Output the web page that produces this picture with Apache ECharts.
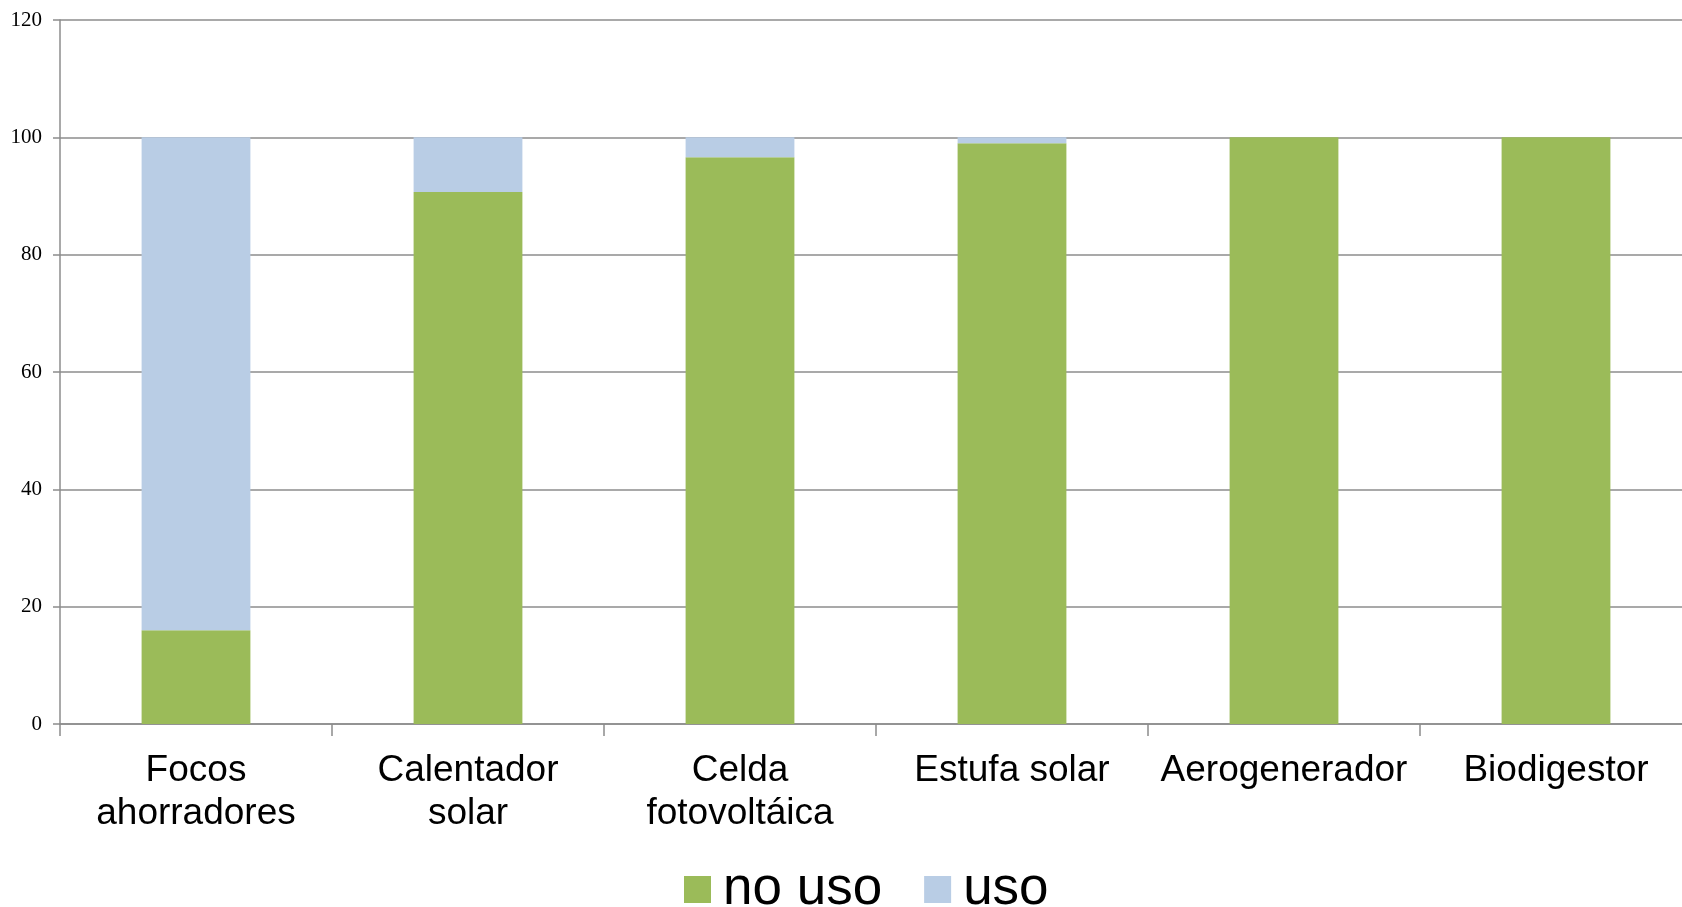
<!DOCTYPE html>
<html>
<head>
<meta charset="utf-8">
<script src="https://cdn.jsdelivr.net/npm/echarts@6/dist/echarts.min.js"></script>
<style>
  html, body { margin: 0; padding: 0; background: #fff; }
  #main { width: 1682px; height: 907px; }
</style>
</head>
<body>
<div id="main"></div>
<script>
const categories = ['Focos\nahorradores', 'Calentador\nsolar', 'Celda\nfotovoltáica', 'Estufa solar', 'Aerogenerador', 'Biodigestor'];
const noUso = [16, 90.7, 96.6, 99, 100, 100];
const uso = [84, 9.3, 3.4, 1, 0, 0];
const yTicks = [0, 20, 40, 60, 80, 100, 120];

const green = '#9BBB59';
const blue = '#B9CDE5';
const gridGray = '#8c8c8c';

const chart = echarts.init(document.getElementById('main'));

const option = {
  animation: false,
  backgroundColor: '#fff',
  grid: { left: 60, top: 20, bottom: 183, width: 1632, outerBoundsMode: 'none' },
  legend: {
    left: 684,
    top: 863,
    padding: 0,
    itemWidth: 27,
    itemHeight: 27,
    itemGap: 42,
    icon: 'rect',
    textStyle: { fontFamily: 'Liberation Sans, Arial, sans-serif', fontSize: 53, color: '#000', padding: [0, 0, 0, 7] },
    data: ['no uso', 'uso']
  },
  xAxis: {
    type: 'category',
    data: categories,
    axisLine: { lineStyle: { color: gridGray, width: 1.5 } },
    axisTick: { show: true, length: 12, lineStyle: { color: gridGray, width: 1.5 } },
    axisLabel: {
      margin: 25,
      fontFamily: 'Liberation Sans, Arial, sans-serif',
      fontSize: 37,
      lineHeight: 43,
      color: '#000',
      interval: 0
    }
  },
  yAxis: {
    type: 'value',
    min: yTicks[0],
    max: yTicks[yTicks.length - 1],
    interval: 20,
    axisLine: { show: true, lineStyle: { color: gridGray, width: 1.5 } },
    axisTick: { show: true, length: 7, lineStyle: { color: gridGray, width: 1.5 } },
    splitLine: { lineStyle: { color: gridGray, width: 1.5 } },
    axisLabel: {
      margin: 18,
      fontFamily: 'Liberation Serif, Times New Roman, serif',
      fontSize: 21,
      color: '#000'
    }
  },
  series: [
    {
      name: 'no uso',
      type: 'bar',
      stack: 'total',
      barWidth: '40%',
      itemStyle: { color: green },
      data: noUso
    },
    {
      name: 'uso',
      type: 'bar',
      stack: 'total',
      barWidth: '40%',
      itemStyle: { color: blue },
      data: uso
    }
  ]
};

chart.setOption(option);
</script>
</body>
</html>
